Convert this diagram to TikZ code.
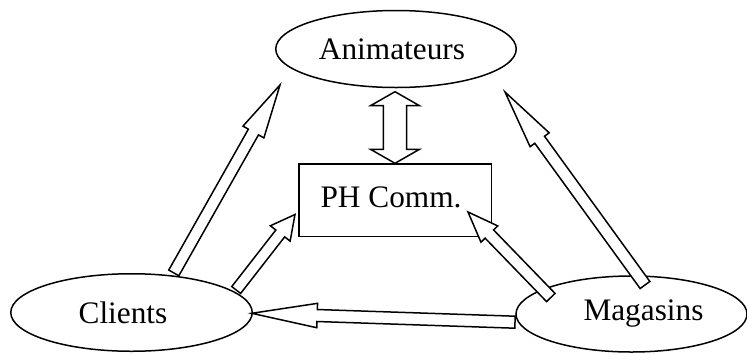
\documentclass[tikz,border=0pt]{standalone}
\usepackage{fontspec}
\setmainfont{Liberation Serif}
\usetikzlibrary{shapes.geometric,calc}
% block arrow: #1 tail, #2 tip, #3 shaft half-width, #4 head half-width, #5 head length
\newcommand{\blockarrow}[5]{%
  \coordinate (bakneck) at ($(#2)!#5!(#1)$);
  \draw[blockline] ($(#1)!#3!90:(#2)$) -- ($(bakneck)!#3!90:(#2)$) -- ($(bakneck)!#4!90:(#2)$) -- (#2)
    -- ($(bakneck)!#4!-90:(#2)$) -- ($(bakneck)!#3!-90:(#2)$) -- ($(#1)!#3!-90:(#2)$) -- cycle;}
% double block arrow: #1 and #2 tips
\newcommand{\dblblockarrow}[5]{%
  \coordinate (dbnA) at ($(#2)!#5!(#1)$);
  \coordinate (dbnB) at ($(#1)!#5!(#2)$);
  \draw[blockline] (#1) -- ($(dbnB)!#4!90:(#2)$) -- ($(dbnB)!#3!90:(#2)$) -- ($(dbnA)!#3!90:(#2)$)
    -- ($(dbnA)!#4!90:(#2)$) -- (#2) -- ($(dbnA)!#4!-90:(#2)$) -- ($(dbnA)!#3!-90:(#2)$)
    -- ($(dbnB)!#3!-90:(#2)$) -- ($(dbnB)!#4!-90:(#2)$) -- cycle;}
\begin{document}
\begin{tikzpicture}[x=1pt,y=-1pt,
  ellnode/.style={ellipse,draw,line width=1.5pt,inner sep=0pt,font=\fontsize{31.3pt}{36pt}\selectfont},
  boxnode/.style={rectangle,draw,line width=1.5pt,inner sep=0pt,font=\fontsize{31.3pt}{36pt}\selectfont},
  blockline/.style={draw,fill=white,line width=1.5pt,line join=miter}]
\useasboundingbox (0,0) rectangle (747,354);
\fill[white] (0,0) rectangle (747,354);
% nodes
\node[ellnode,minimum width=240.5pt,minimum height=77pt] (anim) at (396,49) {Animateurs\kern8pt};
\node[ellnode,minimum width=241.5pt,minimum height=77.5pt] (cli) at (131.5,312.5) {Clients\kern17pt};
\node[ellnode,minimum width=231pt,minimum height=76pt] (mag) at (631.5,314) {\kern24pt Magasins};
\node[boxnode,minimum width=192.5pt,minimum height=72.5pt] (ph) at (395,200) {\raisebox{6pt}{PH Comm.}\kern8pt};
% arrow ends
\coordinate (aS) at (173.8,272.9); \coordinate (aT) at (280,85);
\coordinate (bS) at (236.2,290);   \coordinate (bT) at (295,214.5);
\coordinate (cS) at (645,285);     \coordinate (cT) at (505,92);
\coordinate (dS) at (550.8,297.5); \coordinate (dT) at (468,212);
\coordinate (eS) at (515,322.2);   \coordinate (eT) at (251.7,313.3);
\coordinate (fS) at (395,163.3);   \coordinate (fT) at (395,91.7);
% arrows
\blockarrow{aS}{aT}{5.8pt}{12pt}{54pt}
\blockarrow{bS}{bT}{5.6pt}{12.5pt}{24pt}
\blockarrow{cS}{cT}{6pt}{11.8pt}{59pt}
\blockarrow{dS}{dT}{5.9pt}{11.7pt}{30.7pt}
\blockarrow{eS}{eT}{6pt}{12.2pt}{65.5pt}
\dblblockarrow{fS}{fT}{11.7pt}{24.5pt}{14pt}
\end{tikzpicture}
\end{document}
